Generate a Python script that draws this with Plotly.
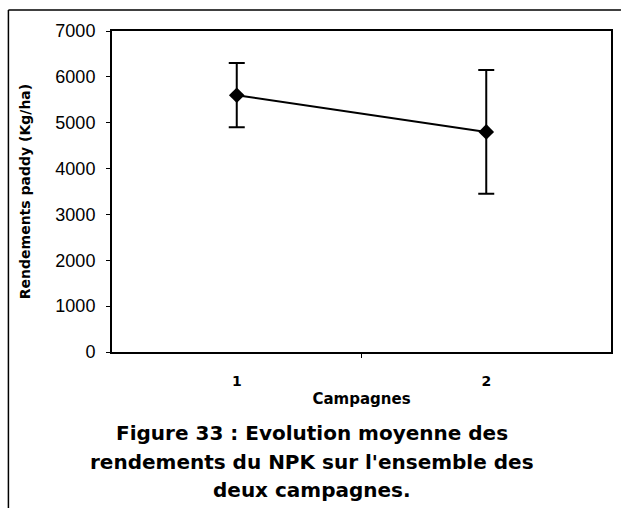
import plotly.graph_objects as go

# Data: mean paddy yield per campaign with its spread
campagnes = [1, 2]
rendements = [5600, 4800]
ecarts = [700, 1350]

y_ticks = [0, 1000, 2000, 3000, 4000, 5000, 6000, 7000]

W, H = 623, 508
L, R, T, B = 112, 10, 31, 156


def px_x(px):
    return (px - L) / (W - L - R)


def px_y(py):
    return 1 - (py - T) / (H - T - B)


fig = go.Figure()
fig.add_trace(go.Scatter(
    x=campagnes, y=rendements,
    mode="lines+markers",
    line=dict(color="black", width=2),
    marker=dict(symbol="diamond", size=12, color="black"),
    error_y=dict(type="data", array=ecarts, visible=True,
                 color="black", thickness=2, width=8),
    showlegend=False,
))

fig.update_layout(
    width=W, height=H,
    margin=dict(l=L, r=R, t=T, b=B),
    paper_bgcolor="white", plot_bgcolor="white",
    xaxis=dict(
        range=[0.5, 2.5], tickvals=campagnes,
        ticktext=[str(c) for c in campagnes],
        ticks="", showgrid=False, zeroline=False,
        showline=True, linecolor="black", linewidth=2, mirror=True,
        tickfont=dict(family="DejaVu Sans", size=14, color="black", weight="bold"),
        ticklabelstandoff=15,
        minor=dict(tickvals=[1.5], ticks="outside", ticklen=4,
                   tickcolor="black", tickwidth=1),
        title=dict(text="Campagnes", standoff=6,
                   font=dict(family="DejaVu Sans", size=15, color="black", weight="bold")),
    ),
    yaxis=dict(
        range=[0, 7000], tickvals=y_ticks,
        ticks="outside", ticklen=4, tickcolor="black", tickwidth=1,
        showgrid=False, zeroline=False,
        showline=True, linecolor="black", linewidth=2, mirror=True,
        tickfont=dict(family="Liberation Sans", size=18, color="black"),
        ticklabelstandoff=7,
        title=dict(text="Rendements paddy (Kg/ha)", standoff=21,
                   font=dict(family="DejaVu Sans", size=14, color="black", weight="bold")),
    ),
)

# Outer frame around the figure block
fig.add_shape(type="line", xref="paper", yref="paper",
              x0=px_x(8), x1=px_x(623), y0=px_y(10), y1=px_y(10),
              line=dict(color="black", width=1.5))
fig.add_shape(type="line", xref="paper", yref="paper",
              x0=px_x(8), x1=px_x(8), y0=px_y(10), y1=px_y(508),
              line=dict(color="black", width=1.5))

# Figure caption
caption = [
    "Figure 33 : Evolution moyenne des",
    "rendements du NPK sur l'ensemble des",
    "deux campagnes.",
]
for line, yc in zip(caption, [433, 462, 490]):
    fig.add_annotation(
        text=line, xref="paper", yref="paper",
        x=px_x(313), y=px_y(yc), xanchor="center", yanchor="middle",
        showarrow=False,
        font=dict(family="DejaVu Sans", size=20, color="black", weight="bold"),
    )

fig.write_html("out.html")
